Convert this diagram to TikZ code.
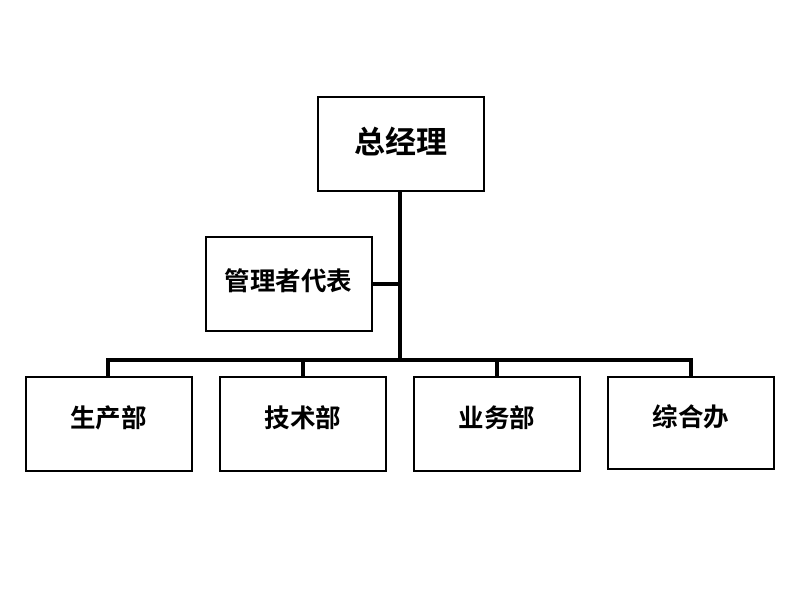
\documentclass[tikz,border=0pt]{standalone}
\usepackage{fontspec}
\newfontfamily\cjk{Noto Sans CJK SC}[BoldFont={* Bold}]
\begin{document}
\begin{tikzpicture}[x=1pt,y=-1pt,
  box/.style={draw,line width=2pt,minimum width=166pt,minimum height=94pt,inner sep=0pt,font=\cjk\bfseries\fontsize{25.5}{25.5}\selectfont},
  bigbox/.style={box,font=\cjk\bfseries\fontsize{31}{31}\selectfont},
  conn/.style={line width=4.5pt},
  drop/.style={line width=4pt}]
\useasboundingbox (0,0) rectangle (800,600);
\node[bigbox] (gm) at (400.5,144) {\raisebox{8pt}{总经理}};
\node[box] (rep) at (288.5,284) {\raisebox{8pt}{管理者代表}};
\node[box] (p1) at (108.5,424) {\raisebox{15pt}{生产部}};
\node[box] (p2) at (303,424) {\raisebox{15pt}{技术部}};
\node[box] (p3) at (497,424) {\raisebox{15pt}{业务部}};
\node[box,minimum height=92pt] (p4) at (691,423) {\raisebox{14pt}{综合办}};
\coordinate (j) at (400,360);
\coordinate (bl) at (108,360);
\coordinate (br) at (691,360);
\draw[conn] (gm.south -| j) -- (j);
\draw[conn] (rep.east) -- (rep.east -| j);
\draw[conn] ([xshift=-2pt]bl) -- ([xshift=2pt]br);
\draw[drop] (bl) -- (p1.north -| bl);
\draw[drop] (p2.north |- j) -- (p2.north);
\draw[drop] (p3.north |- j) -- (p3.north);
\draw[drop] (br) -- (p4.north -| br);
\end{tikzpicture}
\end{document}
